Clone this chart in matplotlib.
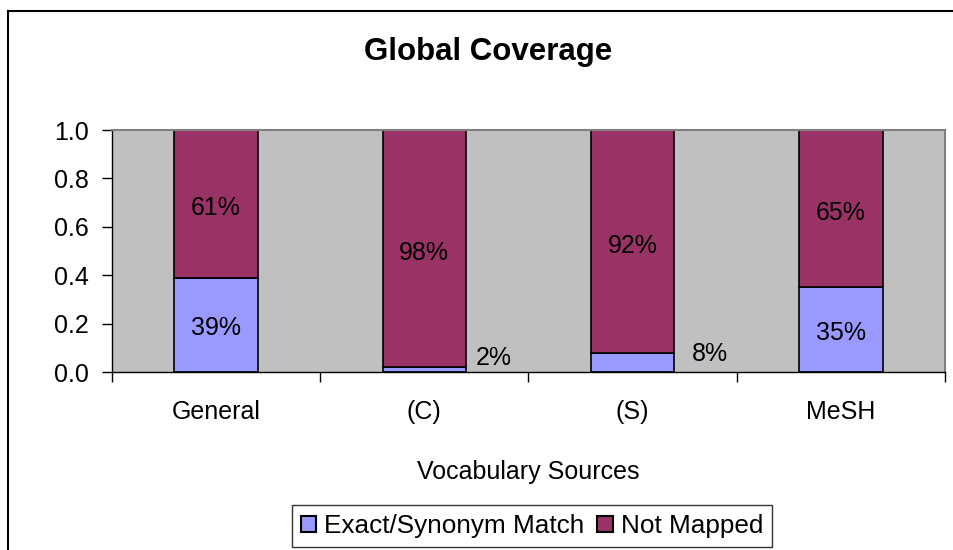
import matplotlib.pyplot as plt
from matplotlib.lines import Line2D
import numpy as np

plt.rcParams['font.family'] = ['Liberation Sans', 'DejaVu Sans']

categories = ['General', '(C)', '(S)', 'MeSH']
exact_match = [0.39, 0.02, 0.08, 0.35]
not_mapped = [0.61, 0.98, 0.92, 0.65]
exact_labels = ['39%', '2%', '8%', '35%']
not_mapped_labels = ['61%', '98%', '92%', '65%']
y_ticks = [0.0, 0.2, 0.4, 0.6, 0.8, 1.0]

color_exact = '#9999FF'
color_not = '#993366'

fig = plt.figure(figsize=(9.54, 5.5), dpi=100)
ax = fig.add_axes([112 / 954, 1 - 372 / 550, (945 - 112) / 954, (372 - 130) / 550])
ax.set_facecolor('#C0C0C0')

x = np.arange(len(categories))
width = 0.40
ax.bar(x, exact_match, width, color=color_exact, edgecolor='black', linewidth=1.2,
       label='Exact/Synonym Match')
ax.bar(x, not_mapped, width, bottom=exact_match, color=color_not, edgecolor='black',
       linewidth=1.2, label='Not Mapped')

# labels: inside the segment when it is big enough, otherwise to the right of the bar
outside_pos = {1: (0.245, 0.058), 2: (0.285, 0.074)}
for i in range(len(categories)):
    if i in outside_pos:
        dx, yy = outside_pos[i]
        ax.text(i + dx, yy, exact_labels[i], ha='left', va='center', fontsize=18)
    else:
        ax.text(i, exact_match[i] / 2 - 0.012, exact_labels[i], ha='center', va='center',
                fontsize=18)
    ax.text(i, exact_match[i] + not_mapped[i] / 2 - 0.018, not_mapped_labels[i],
            ha='center', va='center', fontsize=18)

ax.set_xlim(-0.5, len(categories) - 0.5)
ax.set_ylim(0, 1.0)
ax.set_yticks(y_ticks)
ax.set_yticklabels([f'{v:.1f}' for v in y_ticks], fontsize=18)
ax.set_xticks(x)
ax.set_xticklabels(categories, fontsize=18)
ax.tick_params(axis='x', length=0, pad=20)
ax.tick_params(axis='y', direction='out', length=7, width=1, pad=10)
# boundary ticks between categories
ax.set_xticks(np.arange(-0.5, len(categories), 1.0), minor=True)
ax.tick_params(axis='x', which='minor', direction='out', length=7, width=1)

for side in ['top', 'right']:
    ax.spines[side].set_color('#808080')
    ax.spines[side].set_linewidth(1.5)
for side in ['left', 'bottom']:
    ax.spines[side].set_color('black')
    ax.spines[side].set_linewidth(1)

ax.set_xlabel('Vocabulary Sources', fontsize=18, labelpad=26)
fig.text(488 / 954, 1 - 52 / 550, 'Global Coverage', ha='center', va='center',
         fontsize=22.5, fontweight='bold')

leg = fig.legend(loc='center', bbox_to_anchor=(532 / 954, 1 - 526 / 550), ncol=2,
                 fontsize=18.8, frameon=True, fancybox=False, handlelength=0.6,
                 handleheight=0.6, handletextpad=0.3, columnspacing=0.5,
                 borderpad=0.35, edgecolor='black')
leg.get_frame().set_linewidth(1)
for h in leg.legend_handles:
    h.set_edgecolor('black')
    h.set_linewidth(1.5)

# outer chart frame (top and left edges visible)
fig.add_artist(Line2D([8 / 954, 1.01], [1 - 10.5 / 550, 1 - 10.5 / 550], color='black', linewidth=1.5))
fig.add_artist(Line2D([8 / 954, 8 / 954], [-0.01, 1 - 10.5 / 550], color='black', linewidth=1.5))

plt.savefig('out.png', dpi=100)
